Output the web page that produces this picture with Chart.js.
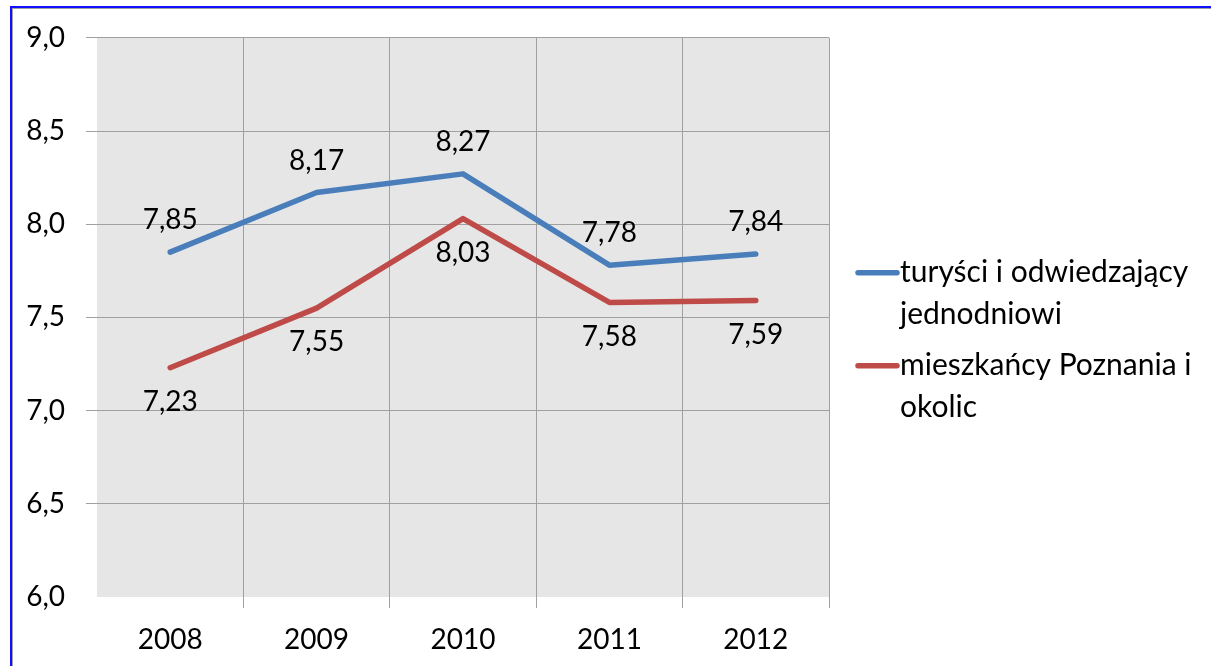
<!DOCTYPE html>
<html><head><meta charset="utf-8">
<script src="https://cdn.jsdelivr.net/npm/chart.js@4.4.0/dist/chart.umd.min.js"></script>
<style>
html,body{margin:0;padding:0;background:#fff;overflow:hidden;width:1211px;height:666px}
#frame{position:absolute;left:10px;top:6px;width:1220px;height:680px;border-left:2px solid #1010ff;border-top:2px solid #1010ff;box-shadow: inset 1px 1px 0 #a0a0a0;}
#c{position:absolute;left:0;top:0}
</style></head><body>
<div id="frame"></div>
<canvas id="c" width="1211" height="666"></canvas>
<script>
const categories = ['2008', '2009', '2010', '2011', '2012'];
const tourists = [7.85, 8.17, 8.27, 7.78, 7.84];
const residents = [7.23, 7.55, 8.03, 7.58, 7.59];
const seriesNames = [['turyści i odwiedzający', 'jednodniowi'], ['mieszkańcy Poznania i', 'okolic']];
const yTicks = [6.0, 6.5, 7.0, 7.5, 8.0, 8.5, 9.0];

const FONT = 'Lato';
const GRID = '#a0a0a0';
const colors = ['#4a7ebb', '#be4b48'];
const fmt1 = v => v.toFixed(1).replace('.', ',');
const fmt2 = v => v.toFixed(2).replace('.', ',');

const bgPlugin = {
  id: 'bg',
  beforeDraw(chart) {
    const {ctx, chartArea: a} = chart;
    ctx.save();
    ctx.fillStyle = '#e6e6e6';
    ctx.fillRect(a.left, a.top, a.right - a.left, a.bottom - a.top);
    ctx.restore();
  }
};

const labelPlugin = {
  id: 'dlabels',
  afterDatasetsDraw(chart) {
    const ctx = chart.ctx;
    ctx.save();
    ctx.font = '28px ' + FONT;
    ctx.fillStyle = '#000';
    ctx.textAlign = 'center';
    ctx.textBaseline = 'middle';
    chart.data.datasets.forEach((ds, i) => {
      const meta = chart.getDatasetMeta(i);
      meta.data.forEach((pt, j) => {
        const off = i === 0 ? -32 : 34;
        ctx.fillText(fmt2(ds.data[j]), pt.x, pt.y + off);
      });
    });
    ctx.restore();
  }
};

const legendPlugin = {
  id: 'customLegend',
  afterDraw(chart) {
    const ctx = chart.ctx;
    const a = chart.chartArea;
    ctx.save();
    ctx.font = '30px ' + FONT;
    ctx.fillStyle = '#000';
    ctx.textAlign = 'left';
    ctx.textBaseline = 'middle';
    let y = a.top + 235;
    chart.data.datasets.forEach((ds, i) => {
      ctx.strokeStyle = ds.borderColor;
      ctx.lineWidth = 5.5;
      ctx.lineCap = 'round';
      ctx.beginPath();
      ctx.moveTo(a.right + 29, y);
      ctx.lineTo(a.right + 68, y);
      ctx.stroke();
      seriesNames[i].forEach((line, k) => {
        ctx.fillText(line, a.right + 71, y + k * 42);
      });
      y += 93;
    });
    ctx.restore();
  }
};

new Chart(document.getElementById('c'), {
  type: 'line',
  data: {
    labels: categories,
    datasets: [
      {label: seriesNames[0].join(' '), data: tourists, borderColor: colors[0], backgroundColor: colors[0]},
      {label: seriesNames[1].join(' '), data: residents, borderColor: colors[1], backgroundColor: colors[1]}
    ]
  },
  options: {
    responsive: false,
    animation: false,
    devicePixelRatio: 1,
    layout: {padding: {left: 0, top: 37, right: 382, bottom: 0}},
    elements: {
      line: {borderWidth: 5.5, tension: 0, borderCapStyle: 'round', borderJoinStyle: 'round'},
      point: {radius: 0, hoverRadius: 0}
    },
    plugins: {legend: {display: false}, tooltip: {enabled: false}},
    scales: {
      x: {
        offset: true,
        grid: {
          offset: true,
          color: c => (c.type === 'tick' && c.index === 0) ? 'rgba(0,0,0,0)' : GRID,
          tickLength: 11,
          lineWidth: 1
        },
        border: {display: false},
        ticks: {color: '#000', font: {family: FONT, size: 28}, padding: 15},
        afterFit: s => { s.height = 69; }
      },
      y: {
        min: 6, max: 9,
        afterBuildTicks: s => { s.ticks = yTicks.map(v => ({value: v})); },
        grid: {
          color: c => (c.tick && c.tick.value === 6) ? 'rgba(0,0,0,0)' : GRID,
          tickLength: 11,
          lineWidth: 1
        },
        border: {display: false},
        ticks: {color: '#000', font: {family: FONT, size: 28}, padding: 21, callback: v => fmt1(v)},
        afterFit: s => { s.width = 97; }
      }
    }
  },
  plugins: [bgPlugin, labelPlugin, legendPlugin]
});
</script>
</body></html>
